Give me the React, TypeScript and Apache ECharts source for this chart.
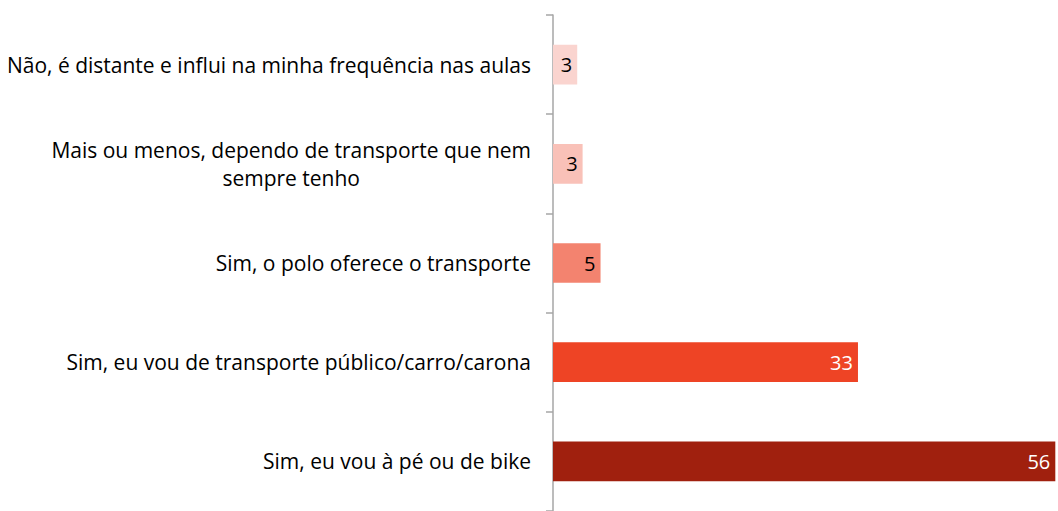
import React, { useEffect, useRef } from "react";
import * as echarts from "echarts";

const categories = [
  "Não, é distante e influi na minha frequência nas aulas",
  "Mais ou menos, dependo de transporte que nem\nsempre tenho",
  "Sim, o polo oferece o transporte",
  "Sim, eu vou de transporte público/carro/carona",
  "Sim, eu vou à pé ou de bike",
];
const values = [2.7, 3.3, 5.3, 34.0, 56];
const valueLabels = ["3", "3", "5", "33", "56"];
const colors = ["#FAD4CF", "#F9C1B8", "#F3836F", "#EE4425", "#A0200E"];
const labelColors = ["#000000", "#000000", "#000000", "#FFFFFF", "#FFFFFF"];

const FONT = "Open Sans";

export default function App() {
  const ref = useRef<HTMLDivElement>(null);
  useEffect(() => {
    if (!ref.current) return;
    const chart = echarts.init(ref.current, undefined, { renderer: "svg" });
    chart.setOption({
      animation: false,
      backgroundColor: "#FFFFFF",
      grid: { left: 553, top: 15, width: 505, height: 500, containLabel: false },
      xAxis: {
        type: "value",
        min: 0,
        max: 56.3,
        show: false,
      },
      yAxis: {
        type: "category",
        inverse: true,
        data: categories,
        axisLine: { show: true, lineStyle: { color: "#A6A6A6", width: 1.5 } },
        axisTick: { show: true, length: 7, lineStyle: { color: "#A6A6A6", width: 1.5 } },
        axisLabel: {
          margin: 22,
          color: "#000000",
          fontFamily: FONT,
          fontSize: 21,
          formatter: (v: string) =>
            v
              .split("\n")
              .map((l) => `{c|${l}}`)
              .join("\n"),
          rich: {
            c: { align: "center", fontFamily: FONT, fontSize: 21, color: "#000000", lineHeight: 28 },
          },
        },
        splitLine: { show: false },
      },
      series: [
        {
          type: "bar",
          barCategoryGap: "60%",
          data: values.map((v, i) => ({
            value: v,
            itemStyle: { color: colors[i] },
            label: { color: labelColors[i] },
          })),
          label: {
            show: true,
            position: "insideRight",
            distance: 5,
            fontFamily: FONT,
            fontSize: 20,
            formatter: (p: any) => valueLabels[p.dataIndex],
          },
        },
      ],
    });
    return () => chart.dispose();
  }, []);
  return (
    <div
      ref={ref}
      style={{ position: "fixed", left: 0, top: 0, width: 1058, height: 511 }}
    />
  );
}
